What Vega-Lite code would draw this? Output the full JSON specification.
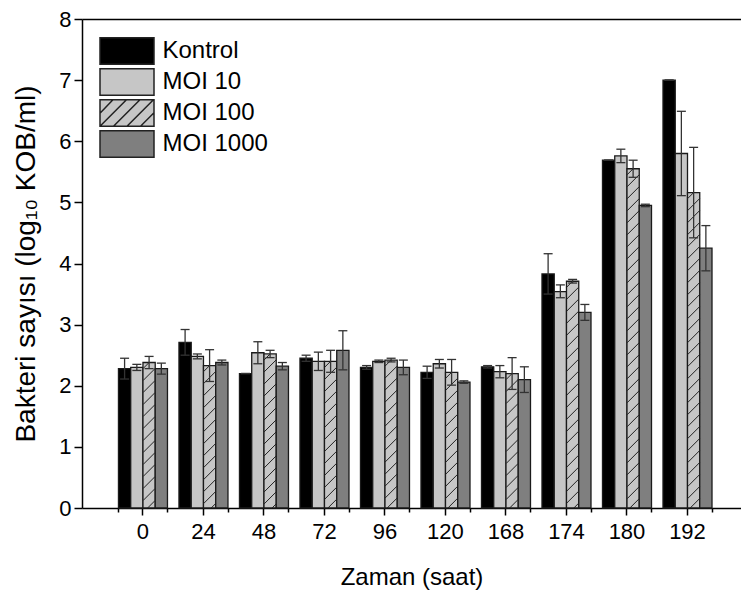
{
  "$schema": "https://vega.github.io/schema/vega-lite/v6.json",
  "width": 659,
  "height": 489,
  "autosize": {"type": "none"},
  "padding": {"left": 82, "top": 19, "right": 0, "bottom": 84},
  "background": "white",
  "config": {
    "view": {"stroke": null},
    "font": "Liberation Sans",
    "axis": {
      "labelFont": "Liberation Sans",
      "labelFontSize": 22,
      "labelColor": "#000",
      "titleFont": "Liberation Sans",
      "titleFontSize": 22,
      "titleFontWeight": "normal",
      "titleColor": "#000",
      "domainColor": "#000",
      "domainWidth": 1.5,
      "tickColor": "#000",
      "tickWidth": 1.5,
      "grid": false
    }
  },
  "data": {
    "values": [
      {"Zaman": "0", "series": "Kontrol", "value": 2.28, "lo": 2.11, "hi": 2.45},
      {"Zaman": "0", "series": "MOI 10", "value": 2.30, "lo": 2.25, "hi": 2.35},
      {"Zaman": "0", "series": "MOI 100", "value": 2.38, "lo": 2.28, "hi": 2.48},
      {"Zaman": "0", "series": "MOI 1000", "value": 2.28, "lo": 2.19, "hi": 2.37},
      {"Zaman": "24", "series": "Kontrol", "value": 2.71, "lo": 2.50, "hi": 2.92},
      {"Zaman": "24", "series": "MOI 10", "value": 2.48, "lo": 2.44, "hi": 2.52},
      {"Zaman": "24", "series": "MOI 100", "value": 2.33, "lo": 2.07, "hi": 2.59},
      {"Zaman": "24", "series": "MOI 1000", "value": 2.38, "lo": 2.34, "hi": 2.42},
      {"Zaman": "48", "series": "Kontrol", "value": 2.20, "lo": 2.20, "hi": 2.20},
      {"Zaman": "48", "series": "MOI 10", "value": 2.54, "lo": 2.36, "hi": 2.72},
      {"Zaman": "48", "series": "MOI 100", "value": 2.52, "lo": 2.46, "hi": 2.58},
      {"Zaman": "48", "series": "MOI 1000", "value": 2.32, "lo": 2.26, "hi": 2.38},
      {"Zaman": "72", "series": "Kontrol", "value": 2.45, "lo": 2.40, "hi": 2.50},
      {"Zaman": "72", "series": "MOI 10", "value": 2.40, "lo": 2.25, "hi": 2.55},
      {"Zaman": "72", "series": "MOI 100", "value": 2.40, "lo": 2.22, "hi": 2.58},
      {"Zaman": "72", "series": "MOI 1000", "value": 2.58, "lo": 2.26, "hi": 2.90},
      {"Zaman": "96", "series": "Kontrol", "value": 2.30, "lo": 2.27, "hi": 2.33},
      {"Zaman": "96", "series": "MOI 10", "value": 2.40, "lo": 2.38, "hi": 2.42},
      {"Zaman": "96", "series": "MOI 100", "value": 2.42, "lo": 2.39, "hi": 2.45},
      {"Zaman": "96", "series": "MOI 1000", "value": 2.30, "lo": 2.18, "hi": 2.42},
      {"Zaman": "120", "series": "Kontrol", "value": 2.22, "lo": 2.12, "hi": 2.32},
      {"Zaman": "120", "series": "MOI 10", "value": 2.36, "lo": 2.29, "hi": 2.43},
      {"Zaman": "120", "series": "MOI 100", "value": 2.22, "lo": 2.01, "hi": 2.43},
      {"Zaman": "120", "series": "MOI 1000", "value": 2.06, "lo": 2.04, "hi": 2.08},
      {"Zaman": "168", "series": "Kontrol", "value": 2.31, "lo": 2.29, "hi": 2.33},
      {"Zaman": "168", "series": "MOI 10", "value": 2.23, "lo": 2.13, "hi": 2.33},
      {"Zaman": "168", "series": "MOI 100", "value": 2.20, "lo": 1.94, "hi": 2.46},
      {"Zaman": "168", "series": "MOI 1000", "value": 2.10, "lo": 1.89, "hi": 2.31},
      {"Zaman": "174", "series": "Kontrol", "value": 3.83, "lo": 3.50, "hi": 4.16},
      {"Zaman": "174", "series": "MOI 10", "value": 3.54, "lo": 3.44, "hi": 3.65},
      {"Zaman": "174", "series": "MOI 100", "value": 3.71, "lo": 3.68, "hi": 3.74},
      {"Zaman": "174", "series": "MOI 1000", "value": 3.20, "lo": 3.07, "hi": 3.33},
      {"Zaman": "180", "series": "Kontrol", "value": 5.69, "lo": 5.69, "hi": 5.69},
      {"Zaman": "180", "series": "MOI 10", "value": 5.76, "lo": 5.65, "hi": 5.87},
      {"Zaman": "180", "series": "MOI 100", "value": 5.55, "lo": 5.41, "hi": 5.69},
      {"Zaman": "180", "series": "MOI 1000", "value": 4.95, "lo": 4.93, "hi": 4.97},
      {"Zaman": "192", "series": "Kontrol", "value": 7.00, "lo": 7.00, "hi": 7.00},
      {"Zaman": "192", "series": "MOI 10", "value": 5.80, "lo": 5.11, "hi": 6.49},
      {"Zaman": "192", "series": "MOI 100", "value": 5.16, "lo": 4.42, "hi": 5.90},
      {"Zaman": "192", "series": "MOI 1000", "value": 4.25, "lo": 3.88, "hi": 4.62}
    ]
  },
  "resolve": {"axis": {"x": "independent"}},
  "layer": [
    {
      "mark": {"type": "bar", "stroke": "#1a1a1a", "strokeWidth": 1.3},
      "encoding": {
        "x": {
          "field": "Zaman", "type": "nominal",
          "scale": {"domain": ["0","24","48","72","96","120","168","174","180","192"], "paddingInner": 0.19, "paddingOuter": 0.541, "align": 0.557},
          "axis": {"title": "Zaman (saat)", "titleFontSize": 24, "labelAngle": 0, "tickSize": 7, "labelPadding": 6, "titlePadding": 23, "domain": true, "orient": "bottom"}
        },
        "xOffset": {
          "field": "series", "type": "nominal",
          "scale": {"domain": ["Kontrol","MOI 10","MOI 100","MOI 1000"], "paddingInner": 0, "paddingOuter": 0}
        },
        "y": {
          "field": "value", "type": "quantitative",
          "title": "Bakteri sayısı (log₁₀ KOB/ml)",
          "scale": {"domain": [0, 8], "nice": false},
          "axis": {
            "values": [0,0.5,1,1.5,2,2.5,3,3.5,4,4.5,5,5.5,6,6.5,7,7.5,8],
            "labelExpr": "datum.value % 1 === 0 ? format(datum.value, 'd') : ''",
            "labelOverlap": false,
            "tickSize": {"condition": {"test": "datum.value % 1 === 0", "value": 8}, "value": 4},
            "labelPadding": 3,
            "titleFontSize": 28,
            "titlePadding": 18
          }
        },
        "fill": {
          "field": "series", "type": "nominal",
          "scale": {"domain": ["Kontrol","MOI 10","MOI 100","MOI 1000"], "range": ["#000000","#c6c6c6","#c6c6c6","#7f7f7f"]},
          "legend": {
            "orient": "none", "legendX": 30.5, "legendY": 17.5, "title": null,
            "symbolType": "M-2,-0.98H2V0.98H-2Z",
            "symbolSize": 729,
            "symbolStrokeColor": "#222", "symbolStrokeWidth": 1.5, "symbolOpacity": 1,
            "labelFont": "Liberation Sans", "labelFontSize": 24, "labelColor": "#000",
            "labelOffset": 21, "rowPadding": -5, "padding": 0, "labelLimit": 300,
            "encode": {"symbols": {"update": {"shape": {"signal": "datum.value === 'MOI 100' ? 'M-2,-0.98H2V0.98H-2ZM-2,0.02L-1.04,-0.98M-2,0.98L-0.04,-0.98M-1,0.98L0.96,-0.98M0,0.98L1.96,-0.98M1,0.98L2,-0.02' : 'M-2,-0.98H2V0.98H-2Z'"}}}}
          }
        }
      }
    },
    {
      "transform": [{"filter": "datum.series === 'MOI 100'"}],
      "mark": {
        "type": "point",
        "shape": "M-6,6L0,0M-6,18L6,6M-6,30L6,18M-6,42L6,30M-6,54L6,42M-6,66L6,54M-6,78L6,66M-6,90L6,78M-6,102L6,90M-6,114L6,102M-6,126L6,114M-6,138L6,126M-6,150L6,138M-6,162L6,150M-6,174L6,162M-6,186L6,174M-6,198L6,186M-6,210L6,198M-6,222L6,210M-6,234L6,222M-6,246L6,234M-6,258L6,246M-6,270L6,258M-6,282L6,270M-6,294L6,282M-6,306L6,294M-6,318L6,306M-6,330L6,318M-6,342L6,330M-6,354L6,342M-6,366L6,354M-6,378L6,366M-6,390L6,378M-6,402L6,390M-6,414L6,402M-6,426L6,414M-6,438L6,426M-6,450L6,438M-6,462L6,450M-6,474L6,462M-6,486L6,474M-6,498L6,486",
        "size": 4, "filled": false, "stroke": "#222", "strokeWidth": 1, "opacity": 1, "clip": true
      },
      "encoding": {
        "x": {"field": "Zaman", "type": "nominal", "axis": null},
        "xOffset": {"field": "series", "type": "nominal"},
        "y": {"field": "value", "type": "quantitative", "title": "Bakteri sayısı (log₁₀ KOB/ml)"}
      }
    },
    {
      "mark": {"type": "rule", "color": "#333", "strokeWidth": 1.3},
      "encoding": {
        "x": {"field": "Zaman", "type": "nominal", "axis": {"tickBand": "extent", "labels": false, "tickSize": 4, "domain": false, "title": null, "orient": "bottom"}},
        "xOffset": {"field": "series", "type": "nominal"},
        "y": {"field": "lo", "type": "quantitative", "title": "Bakteri sayısı (log₁₀ KOB/ml)"},
        "y2": {"field": "hi"}
      }
    },
    {
      "mark": {"type": "tick", "color": "#333", "size": 9, "thickness": 1.3, "opacity": 1},
      "encoding": {
        "x": {"field": "Zaman", "type": "nominal", "axis": {"orient": "top", "labels": false, "ticks": false, "domain": true, "title": null}},
        "xOffset": {"field": "series", "type": "nominal"},
        "y": {"field": "hi", "type": "quantitative", "title": "Bakteri sayısı (log₁₀ KOB/ml)"}
      }
    },
    {
      "mark": {"type": "tick", "color": "#333", "size": 9, "thickness": 1.3, "opacity": 1},
      "encoding": {
        "x": {"field": "Zaman", "type": "nominal", "axis": null},
        "xOffset": {"field": "series", "type": "nominal"},
        "y": {"field": "lo", "type": "quantitative", "title": "Bakteri sayısı (log₁₀ KOB/ml)"}
      }
    }
  ]
}
